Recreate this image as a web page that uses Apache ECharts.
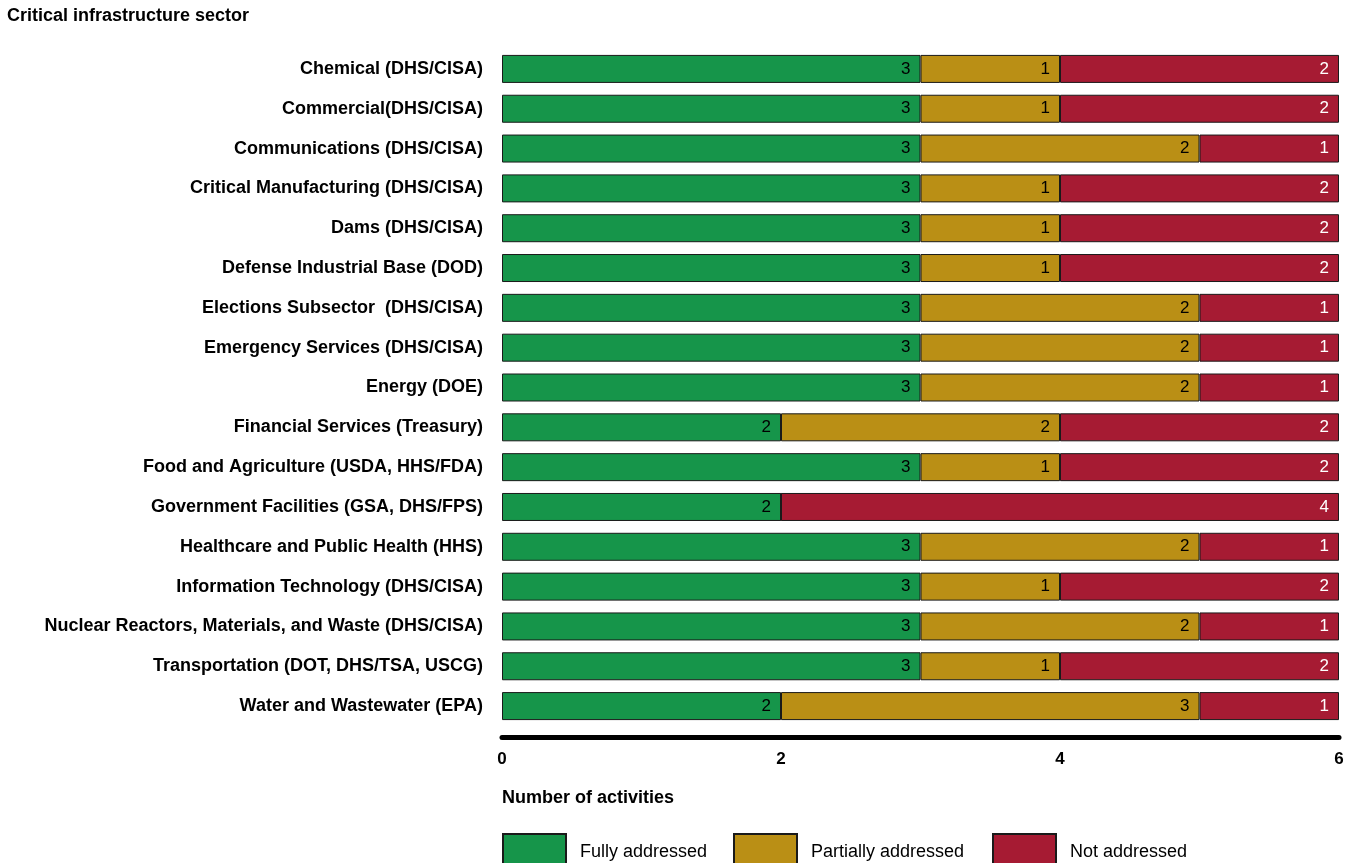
<!DOCTYPE html>
<html>
<head>
<meta charset="utf-8">
<title>Critical infrastructure sector</title>
<script src="https://cdn.jsdelivr.net/npm/echarts@6/dist/echarts.min.js"></script>
<style>
  html, body { margin: 0; padding: 0; background: #fff; }
  #chart { width: 1349px; height: 863px; }
</style>
</head>
<body>
<div id="chart"></div>
<script>
const sectors = [
  'Chemical (DHS/CISA)',
  'Commercial(DHS/CISA)',
  'Communications (DHS/CISA)',
  'Critical Manufacturing (DHS/CISA)',
  'Dams (DHS/CISA)',
  'Defense Industrial Base (DOD)',
  'Elections Subsector  (DHS/CISA)',
  'Emergency Services (DHS/CISA)',
  'Energy (DOE)',
  'Financial Services (Treasury)',
  'Food and Agriculture (USDA, HHS/FDA)',
  'Government Facilities (GSA, DHS/FPS)',
  'Healthcare and Public Health (HHS)',
  'Information Technology (DHS/CISA)',
  'Nuclear Reactors, Materials, and Waste (DHS/CISA)',
  'Transportation (DOT, DHS/TSA, USCG)',
  'Water and Wastewater (EPA)'
];
const fullyAddressed =     [3, 3, 3, 3, 3, 3, 3, 3, 3, 2, 3, 2, 3, 3, 3, 3, 2];
const partiallyAddressed = [1, 1, 2, 1, 1, 1, 2, 2, 2, 2, 1, 0, 2, 1, 2, 1, 3];
const notAddressed =       [2, 2, 1, 2, 2, 2, 1, 1, 1, 2, 2, 4, 1, 2, 1, 2, 1];
const xTicks = [0, 2, 4, 6];

const GREEN = '#16954a';
const GOLD = '#ba8f15';
const RED = '#a61b33';
const FONT = 'Liberation Sans, Arial, sans-serif';
const NARROW = '"Liberation Sans Narrow", "Arial Narrow", "Liberation Sans", sans-serif';

const barSeries = (name, data, color, labelColor) => ({
  name: name,
  type: 'bar',
  stack: 'total',
  data: data,
  barWidth: 28,
  itemStyle: { color: color, borderColor: '#1a1a1a', borderWidth: 1 },
  label: {
    show: true,
    position: 'insideRight',
    distance: 10,
    color: labelColor,
    fontFamily: FONT,
    fontSize: 17,
    formatter: (p) => (p.value ? String(p.value) : '')
  },
  emphasis: { disabled: true }
});

const legendAt = (name, left) => ({
  data: [name],
  left: left,
  top: 833,
  padding: 0,
  itemWidth: 63,
  itemHeight: 36,
  icon: 'rect',
  selectedMode: false,
  textStyle: {
    fontFamily: NARROW,
    fontSize: 18,
    color: '#000',
    padding: [0, 0, 0, 9]
  }
});

const chart = echarts.init(document.getElementById('chart'));
chart.setOption({
  animation: false,
  textStyle: { fontFamily: FONT },
  title: {
    text: 'Critical infrastructure sector',
    left: 2,
    top: 2,
    textStyle: { fontFamily: FONT, fontSize: 18, fontWeight: 'bold', color: '#000' }
  },
  legend: [
    legendAt('Fully addressed', 502),
    legendAt('Partially addressed', 733),
    legendAt('Not addressed', 992)
  ],
  grid: {
    left: 502,
    right: 10,
    top: 49,
    bottom: 137,
    containLabel: false
  },
  xAxis: {
    type: 'value',
    min: xTicks[0],
    max: xTicks[xTicks.length - 1],
    interval: 2,
    offset: 11,
    axisLine: { show: true, lineStyle: { color: '#000', width: 5 } },
    axisTick: { show: false },
    splitLine: { show: false },
    axisLabel: {
      margin: 14,
      color: '#000',
      fontFamily: NARROW,
      fontSize: 17,
      fontWeight: 'bold'
    }
  },
  yAxis: {
    type: 'category',
    data: sectors,
    inverse: true,
    axisLine: { show: false },
    axisTick: { show: false },
    axisLabel: {
      margin: 19,
      color: '#000',
      fontFamily: FONT,
      fontSize: 18,
      fontWeight: 'bold'
    }
  },
  graphic: [
    {
      type: 'text',
      left: 502,
      top: 789,
      style: {
        text: 'Number of activities',
        fill: '#000',
        font: 'bold 18px ' + NARROW
      }
    }
  ],
  series: [
    barSeries('Fully addressed', fullyAddressed, GREEN, '#000'),
    barSeries('Partially addressed', partiallyAddressed, GOLD, '#000'),
    barSeries('Not addressed', notAddressed, RED, '#fff')
  ]
});
</script>
</body>
</html>
